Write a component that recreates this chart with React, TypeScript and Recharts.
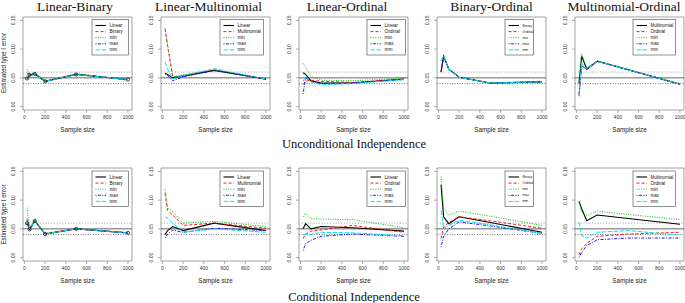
import React from 'react';
import { LineChart, Line, XAxis, YAxis, ReferenceLine, ReferenceArea } from 'recharts';

// ---------- data ----------
const sampleSizes = [25, 50, 100, 200, 500, 1000];
const xTicks = [0, 200, 400, 600, 800, 1000];
const yTicks = [0, 0.05, 0.1, 0.15];
const panelTitles = ['Linear-Binary', 'Linear-Multinomial', 'Linear-Ordinal', 'Binary-Ordinal', 'Multinomial-Ordinal'];
const rowTitles = ['Unconditional Independence', 'Conditional Independence'];
const firstTypes = ['Linear', 'Linear', 'Linear', 'Binary', 'Multinomial'];
const secondTypes = ['Binary', 'Multinomial', 'Ordinal', 'Ordinal', 'Ordinal'];
const methodNames = ['min', 'max', 'mm'];
const yAxisTitle = 'Estimated type I error';
const xAxisTitle = 'Sample size';
const nominalLevel = 0.05;
const bandUpper = 0.06;
const bandLower = 0.04;

// Unconditional independence
const uLB_linear = [0.049, 0.055, 0.057, 0.044, 0.056, 0.047];
const uLB_binary = [0.058, 0.057, 0.058, 0.044, 0.057, 0.046];
const uLB_min = [0.065, 0.054, 0.058, 0.045, 0.057, 0.047];
const uLB_max = [0.048, 0.054, 0.056, 0.044, 0.056, 0.047];
const uLB_mm = [0.049, 0.054, 0.056, 0.044, 0.056, 0.047];

const uLM_linear = [0.058, 0.056, 0.050, 0.053, 0.063, 0.048];
const uLM_multinomial = [0.135, 0.105, 0.051, 0.054, 0.064, 0.047];
const uLM_min = [0.137, 0.108, 0.052, 0.055, 0.064, 0.048];
const uLM_max = [0.057, 0.054, 0.045, 0.052, 0.063, 0.048];
const uLM_mm = [0.077, 0.065, 0.048, 0.054, 0.066, 0.048];

const uLO_linear = [0.059, 0.056, 0.045, 0.041, 0.041, 0.048];
const uLO_ordinal = [0.038, 0.044, 0.046, 0.044, 0.042, 0.048];
const uLO_min = [0.075, 0.069, 0.053, 0.046, 0.045, 0.049];
const uLO_max = [0.022, 0.050, 0.044, 0.040, 0.041, 0.047];
const uLO_mm = [0.044, 0.052, 0.043, 0.038, 0.040, 0.047];

const uBO_binary = [0.061, 0.088, 0.065, 0.051, 0.041, 0.043];
const uBO_ordinal = [0.061, 0.087, 0.065, 0.051, 0.041, 0.043];
const uBO_min = [0.080, 0.088, 0.065, 0.051, 0.041, 0.043];
const uBO_max = [0.060, 0.087, 0.065, 0.051, 0.041, 0.043];
const uBO_mm = [0.080, 0.088, 0.065, 0.051, 0.041, 0.043];

const uMO_multinomial = [0.040, 0.088, 0.065, 0.079, 0.064, 0.039];
const uMO_ordinal = [0.020, 0.070, 0.066, 0.079, 0.064, 0.039];
const uMO_min = [0.045, 0.092, 0.067, 0.080, 0.065, 0.040];
const uMO_max = [0.018, 0.071, 0.065, 0.079, 0.064, 0.039];
const uMO_mm = [0.022, 0.076, 0.065, 0.079, 0.064, 0.039];

// Conditional independence
const cLB_linear = [0.060, 0.049, 0.064, 0.041, 0.050, 0.043];
const cLB_binary = [0.068, 0.052, 0.065, 0.042, 0.050, 0.043];
const cLB_min = [0.087, 0.050, 0.065, 0.042, 0.051, 0.043];
const cLB_max = [0.065, 0.049, 0.063, 0.041, 0.050, 0.043];
const cLB_mm = [0.065, 0.050, 0.064, 0.041, 0.050, 0.043];

const cLM_linear = [0.040, 0.047, 0.054, 0.047, 0.060, 0.047];
const cLM_multinomial = [0.112, 0.082, 0.074, 0.056, 0.060, 0.051];
const cLM_min = [0.119, 0.087, 0.080, 0.060, 0.063, 0.054];
const cLM_max = [0.034, 0.041, 0.048, 0.044, 0.051, 0.047];
const cLM_mm = [0.071, 0.068, 0.060, 0.044, 0.050, 0.044];

const cLO_linear = [0.050, 0.059, 0.050, 0.054, 0.052, 0.046];
const cLO_ordinal = [0.033, 0.041, 0.046, 0.048, 0.056, 0.044];
const cLO_min = [0.071, 0.077, 0.068, 0.067, 0.066, 0.052];
const cLO_max = [0.012, 0.024, 0.030, 0.037, 0.041, 0.037];
const cLO_mm = [0.040, 0.041, 0.040, 0.044, 0.043, 0.038];

const cBO_binary = [0.127, 0.071, 0.059, 0.071, 0.061, 0.044];
const cBO_ordinal = [0.033, 0.053, 0.061, 0.071, 0.064, 0.051];
const cBO_min = [0.141, 0.086, 0.074, 0.081, 0.072, 0.056];
const cBO_max = [0.018, 0.037, 0.050, 0.062, 0.055, 0.042];
const cBO_mm = [0.082, 0.051, 0.056, 0.065, 0.057, 0.042];

const cMO_multinomial = [0.098, 0.085, 0.064, 0.074, 0.068, 0.058];
const cMO_ordinal = [0.005, 0.015, 0.025, 0.037, 0.041, 0.044];
const cMO_min = [0.098, 0.079, 0.073, 0.081, 0.075, 0.066];
const cMO_max = [0.000, 0.009, 0.021, 0.031, 0.034, 0.034];
const cMO_mm = [0.062, 0.038, 0.034, 0.044, 0.047, 0.039];

const panelSeries = [
  [
    [uLB_linear, uLB_binary, uLB_min, uLB_max, uLB_mm],
    [uLM_linear, uLM_multinomial, uLM_min, uLM_max, uLM_mm],
    [uLO_linear, uLO_ordinal, uLO_min, uLO_max, uLO_mm],
    [uBO_binary, uBO_ordinal, uBO_min, uBO_max, uBO_mm],
    [uMO_multinomial, uMO_ordinal, uMO_min, uMO_max, uMO_mm],
  ],
  [
    [cLB_linear, cLB_binary, cLB_min, cLB_max, cLB_mm],
    [cLM_linear, cLM_multinomial, cLM_min, cLM_max, cLM_mm],
    [cLO_linear, cLO_ordinal, cLO_min, cLO_max, cLO_mm],
    [cBO_binary, cBO_ordinal, cBO_min, cBO_max, cBO_mm],
    [cMO_multinomial, cMO_ordinal, cMO_min, cMO_max, cMO_mm],
  ],
];
const markedPanels = [0]; // column index whose first series shows point markers

// ---------- layout / style ----------
const SANS = '"Liberation Sans", Arial, Helvetica, sans-serif';
const SERIF = '"Liberation Serif", "Times New Roman", serif';
const PLOT_LEFTS = [23, 161, 299, 437, 575];
const TITLE_CENTERS = [75, 208.5, 347, 491.5, 624];
const PLOT_W = 109;
const ROW_TOPS = [16.5, 168];
const PLOT_H = 93;
const YW = 22;
const MT = 2;
const MR = 2;
const XH = 24;
const X_DOMAIN: [number, number] = [-14, 1039];
const Y_DOMAIN: [number, number] = [-0.006, 0.156];

const seriesStyles = [
  { stroke: '#000000', dash: undefined as string | undefined, w: 1.1 },
  { stroke: '#FF0000', dash: '3 2', w: 0.9 },
  { stroke: '#00CD00', dash: '1 1.4', w: 1 },
  { stroke: '#0000FF', dash: '1 1.4 3 1.4', w: 0.9 },
  { stroke: '#00E5EE', dash: '4.5 1.5', w: 1 },
];

const legendBoxes = [
  { x: 92, w: 36.5, fs: 4.6 },
  { x: 220, w: 43.5, fs: 4.6 },
  { x: 367, w: 38.5, fs: 4.8 },
  { x: 505, w: 28.5, fs: 3.4 },
  { x: 633, w: 42.5, fs: 4.5 },
];

const YTick = (props: any) => {
  const { x, y, payload } = props;
  const tx = x - 3.2;
  return (
    <text x={tx} y={y} transform={`rotate(-90 ${tx} ${y})`} textAnchor="middle" fontSize={5} fill="#333" fontFamily={SANS}>
      {Number(payload.value).toFixed(2)}
    </text>
  );
};

function Panel({ row, col }: { row: number; col: number }) {
  const series = panelSeries[row][col];
  const data = sampleSizes.map((n, i) => ({
    n,
    s0: series[0][i],
    s1: series[1][i],
    s2: series[2][i],
    s3: series[3][i],
    s4: series[4][i],
  }));
  const left = PLOT_LEFTS[col] - YW;
  const top = ROW_TOPS[row] - MT;
  const marked = markedPanels.includes(col);
  return (
    <div style={{ position: 'absolute', left, top }}>
      <LineChart
        width={YW + PLOT_W + MR}
        height={MT + PLOT_H + XH}
        data={data}
        margin={{ top: MT, right: MR, bottom: 0, left: 0 }}
      >
        <XAxis
          dataKey="n"
          type="number"
          domain={X_DOMAIN}
          ticks={xTicks}
          interval={0}
          allowDataOverflow
          height={XH}
          tickSize={3}
          tickMargin={2.5}
          axisLine={false}
          tickLine={{ stroke: '#777', strokeWidth: 0.6 }}
          tick={{ fontSize: 5, fill: '#333', fontFamily: SANS }}
          label={{ value: xAxisTitle, position: 'insideBottom', offset: 2.5, fontSize: 6.3, fill: '#222', fontFamily: SANS }}
        />
        <YAxis
          type="number"
          domain={Y_DOMAIN}
          ticks={yTicks}
          interval={0}
          allowDataOverflow
          width={YW}
          tickSize={3}
          axisLine={false}
          tickLine={{ stroke: '#777', strokeWidth: 0.6 }}
          tick={(p: any) => <YTick {...p} />}
        />
        <ReferenceArea x1={X_DOMAIN[0]} x2={X_DOMAIN[1]} y1={Y_DOMAIN[0]} y2={Y_DOMAIN[1]} fill="none" fillOpacity={0} stroke="#8a8a8a" strokeWidth={0.8} ifOverflow="visible" />
        <ReferenceLine y={bandUpper} stroke="#bdbdbd" strokeWidth={1.3} strokeDasharray="1.2 1.6" />
        <ReferenceLine y={nominalLevel} stroke="#555" strokeWidth={0.9} />
        <ReferenceLine y={bandLower} stroke="#555" strokeWidth={0.8} strokeDasharray="1 1.5" />
        {seriesStyles.map((s, i) => (
          <Line
            key={i}
            type="linear"
            dataKey={`s${i}`}
            stroke={s.stroke}
            strokeWidth={s.w}
            strokeDasharray={s.dash}
            dot={i === 0 && marked ? { r: 1.6, fill: 'none', stroke: '#222', strokeWidth: 0.8 } : false}
            activeDot={false}
            isAnimationActive={false}
          />
        ))}
      </LineChart>
    </div>
  );
}

function Overlay() {
  const items: React.ReactNode[] = [];
  for (let row = 0; row < 2; row++) {
    const top = ROW_TOPS[row];
    const yc = top + PLOT_H / 2;
    items.push(
      <text key={`yl${row}`} x={6} y={yc} transform={`rotate(-90 6 ${yc})`} textAnchor="middle" fontSize={6.3} fill="#222" fontFamily={SANS}>
        {yAxisTitle}
      </text>
    );
    for (let col = 0; col < 5; col++) {
      const lb = legendBoxes[col];
      const ly = top + 3;
      const labels = [firstTypes[col], secondTypes[col], ...methodNames];
      items.push(
        <rect key={`lr${row}${col}`} x={lb.x} y={ly} width={lb.w} height={35.5} fill="none" stroke="#444" strokeWidth={0.6} />
      );
      labels.forEach((lab, i) => {
        const cy = ly + 6 + i * 6.1;
        const s = seriesStyles[i];
        items.push(
          <line key={`ll${row}${col}${i}`} x1={lb.x + 3.5} x2={lb.x + 14} y1={cy} y2={cy} stroke={s.stroke} strokeWidth={s.w} strokeDasharray={s.dash} />
        );
        items.push(
          <text key={`lt${row}${col}${i}`} x={lb.x + 17.5} y={cy} dominantBaseline="central" fontSize={lb.fs} fill="#111" fontFamily={SANS}>
            {lab}
          </text>
        );
      });
    }
  }
  panelTitles.forEach((t, col) => {
    items.push(
      <text key={`pt${col}`} x={TITLE_CENTERS[col]} y={10.5} textAnchor="middle" fontSize={13.5} fill="#111" fontFamily={SERIF}>
        {t}
      </text>
    );
  });
  items.push(
    <text key="rt0" x={354} y={148} textAnchor="middle" fontSize={12.5} fill="#111" fontFamily={SERIF}>{rowTitles[0]}</text>
  );
  items.push(
    <text key="rt1" x={354} y={300.5} textAnchor="middle" fontSize={12.5} fill="#111" fontFamily={SERIF}>{rowTitles[1]}</text>
  );
  return (
    <svg width={685} height={303} style={{ position: 'absolute', left: 0, top: 0, pointerEvents: 'none' }}>
      {items}
    </svg>
  );
}

export default function App() {
  const panels: React.ReactNode[] = [];
  for (let row = 0; row < 2; row++) {
    for (let col = 0; col < 5; col++) {
      panels.push(<Panel key={`${row}-${col}`} row={row} col={col} />);
    }
  }
  return (
    <div style={{ position: 'fixed', left: 0, top: 0, width: 685, height: 303, background: '#fff', overflow: 'hidden' }}>
      {panels}
      <Overlay />
    </div>
  );
}
